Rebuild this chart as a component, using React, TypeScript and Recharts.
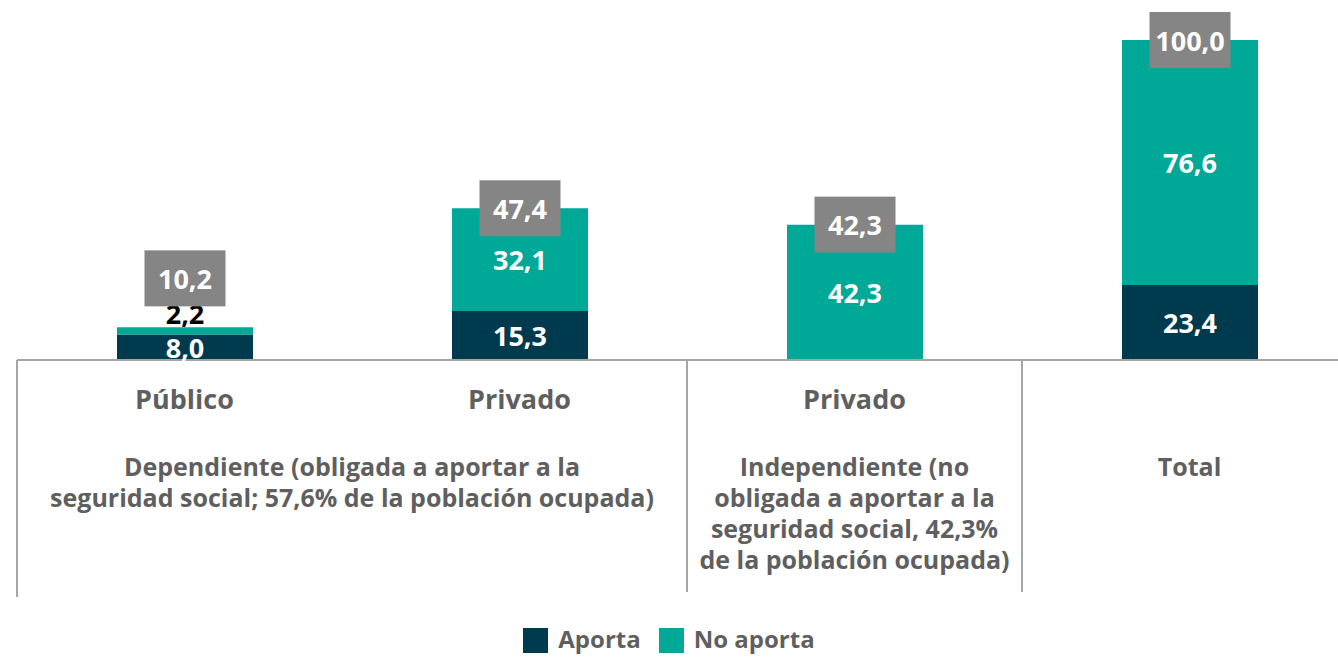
import { BarChart, Bar, XAxis, YAxis, LabelList, Legend } from 'recharts';

const CATEGORIES = ['Público', 'Privado (dep.)', 'Privado (indep.)', 'Total'];
const TICK_LABELS = ['Público', 'Privado', 'Privado', ''];
const APORTA = [8.0, 15.3, 0, 23.4];
const NO_APORTA = [2.2, 32.1, 42.3, 76.6];
const TOTALS = [10.2, 47.4, 42.3, 100.0];

// grupos del eje inferior (desde qué categoría empiezan y cuántas abarcan)
const GROUP_START = [0, 2, 3];
const GROUP_SPAN = [2, 1, 1];
const GROUP_LINES = [
  ['Dependiente (obligada a aportar a la', 'seguridad social; 57,6% de la población ocupada)'],
  ['Independiente (no', 'obligada a aportar a la', 'seguridad social, 42,3%', 'de la población ocupada)'],
  ['Total'],
];

const DARK = '#003a4f';
const TEAL = '#00a898';
const GRAY_BOX = '#858585';
const TEXT = '#5f5f5f';
const FONT = '"Open Sans", sans-serif';

const W = 1357;
const H = 657;
const LEFT = 17;
const TOP = 40;
const BASE_Y = 360;
const STEP = (W - LEFT) / CATEGORIES.length;

const data = CATEGORIES.map((c, i) => ({
  cat: c,
  aporta: APORTA[i],
  noAporta: NO_APORTA[i],
  total: TOTALS[i],
}));

const fmt = (v: number) => v.toFixed(1).replace('.', ',');

const CategoryTick = ({ x, index }: any) => {
  const g = GROUP_START.indexOf(index);
  return (
    <g>
      <text x={x} y={398} textAnchor="middle" dominantBaseline="central" fontFamily={FONT} fontWeight={700} fontSize={27} fill={TEXT}>
        {TICK_LABELS[index]}
      </text>
      {g >= 0 && (
        <>
          <line x1={x - STEP / 2} x2={x - STEP / 2} y1={BASE_Y} y2={index === 0 ? 597 : 592} stroke="#a6a6a6" strokeWidth={2} />
          {GROUP_LINES[g].map((ln, k) => (
            <text key={k} x={x + ((GROUP_SPAN[g] - 1) * STEP) / 2} y={466 + k * 31} textAnchor="middle" dominantBaseline="central"
              fontFamily={FONT} fontWeight={700} fontSize={25} fill={TEXT}>
              {ln}
            </text>
          ))}
        </>
      )}
    </g>
  );
};

const InnerLabel = ({ x, y, width, height, value }: any) => {
  if (!value) return null;
  const small = height < 20;
  return (
    <text x={x + width / 2} y={small ? y - 14 : y + height / 2} textAnchor="middle" dominantBaseline="central"
      fontFamily={FONT} fontWeight={700} fontSize={27} fill={small ? '#000' : '#fff'}>
      {fmt(value)}
    </text>
  );
};

const TotalLabel = ({ x, y, width, height, value }: any) => {
  const cy = height < 20 ? y - 49 : y;
  const cx = x + width / 2;
  return (
    <g>
      <rect x={cx - 40.5} y={cy - 28} width={81} height={56} fill={GRAY_BOX} />
      <text x={cx} y={cy} textAnchor="middle" dominantBaseline="central" fontFamily={FONT} fontWeight={700} fontSize={27} fill="#fff">
        {fmt(value)}
      </text>
    </g>
  );
};

const LegendContent = () => (
  <div style={{ display: 'flex', justifyContent: 'center', alignItems: 'center', paddingTop: 11, height: 25, fontFamily: FONT, fontWeight: 700, fontSize: 24, lineHeight: '25px', color: TEXT }}>
    {[['Aporta', DARK], ['No aporta', TEAL]].map(([name, c], i) => (
      <div key={name} style={{ display: 'flex', alignItems: 'center', marginLeft: i ? 18 : 0 }}>
        <span style={{ width: 25, height: 25, background: c, marginRight: 10, display: 'inline-block' }} />
        <span style={{ position: 'relative', top: -2 }}>{name}</span>
      </div>
    ))}
  </div>
);

export default function App() {
  return (
    <div style={{ position: 'absolute', left: 0, top: 0, width: 1338, height: H, overflow: 'hidden', background: '#fff' }}>
      <BarChart width={W} height={H} data={data} margin={{ top: TOP, left: LEFT, right: 0, bottom: 0 }}>
        <YAxis hide domain={[0, 100]} />
        <XAxis dataKey="cat" tickLine={false} axisLine={{ stroke: '#a6a6a6', strokeWidth: 2 }} tick={<CategoryTick />} height={257} interval={0} />
        <Legend verticalAlign="bottom" content={<LegendContent />} wrapperStyle={{ height: 40, width: 1338, left: 0 }} />
        <Bar dataKey="aporta" stackId="a" fill={DARK} barSize={136} isAnimationActive={false}>
          <LabelList dataKey="aporta" content={<InnerLabel />} />
        </Bar>
        <Bar dataKey="noAporta" stackId="a" fill={TEAL} barSize={136} isAnimationActive={false}>
          <LabelList dataKey="noAporta" content={<InnerLabel />} />
          <LabelList dataKey="total" content={<TotalLabel />} />
        </Bar>
      </BarChart>
    </div>
  );
}
